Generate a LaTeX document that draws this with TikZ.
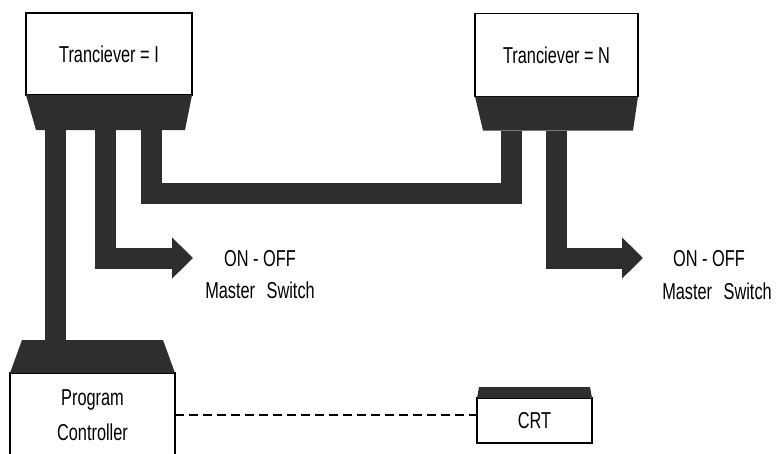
\documentclass[tikz,border=0pt]{standalone}
\usepackage{fontspec}
\setmainfont{Liberation Sans}[FakeStretch=0.71]
\usetikzlibrary{positioning,arrows.meta}
\definecolor{capgray}{HTML}{2E2E2E}
\begin{document}
\begin{tikzpicture}[x=1pt, y=-1pt,
    every node/.style={font=\fontsize{23}{27}\selectfont},
    unit/.style={rectangle, draw, line width=1.1pt, fill=white, outer sep=0pt, inner sep=0pt},
    pipe/.style={draw=capgray, line width=21pt, line join=miter},
    switch/.style={-{Triangle[length=21pt, width=40pt]}},
    dashlink/.style={dash pattern=on 9pt off 5pt, line width=1.5pt}]
    \useasboundingbox (0,0) rectangle (776,453);
    \clip (0,0) rectangle (776,453);

    % Transceivers
    \node[unit, minimum width=166pt, minimum height=82pt] (tranI) at (109,54) {Tranciever = I};
    \node[unit, minimum width=163pt, minimum height=83pt] (tranN) at (556.5,55) {Tranciever = N};
    \fill[capgray] (tranI.south west) -- (tranI.south east) -- ++(-7,35) -- ++(-149,0) -- cycle;
    \fill[capgray] (tranN.south west) -- (tranN.south east) -- ++(-5,34) -- ++(-150,0) -- cycle;

    % Controller and CRT
    \node[unit, minimum width=165pt, minimum height=84pt, align=center] (prog) at (92.5,415) {Program\\[8pt]Controller};
    \node[unit, minimum width=115pt, minimum height=45pt] (crt) at (534.5,420.5) {CRT};
    \fill[capgray] (prog.north west) -- (prog.north east) -- ++(-12,-33) -- ++(-141,0) -- cycle;
    \fill[capgray] (crt.north west) -- (crt.north east) -- ++(-2,-11) -- ++(-111,0) -- cycle;

    % Switch labels
    \node (onoffI) at (260,259) {ON - OFF};
    \node (masterI) at (260,290) {Master\enspace Switch};
    \node (onoffN) at (709,259) {ON - OFF};
    \node (masterN) at (717,291) {Master\enspace Switch};

    % Ports and tips
    \coordinate (portA) at ([xshift=-53.5pt,yshift=-35pt]tranI.south);
    \coordinate (portB) at ([xshift=-4pt,yshift=-35pt]tranI.south);
    \coordinate (portC) at ([xshift=42pt,yshift=-35pt]tranI.south);
    \coordinate (portD) at ([xshift=-45.5pt,yshift=-34pt]tranN.south);
    \coordinate (portE) at ([yshift=-34pt]tranN.south);
    \coordinate (progport) at ([yshift=33pt]prog.north);
    \coordinate (tipI) at (193,258);
    \coordinate (tipN) at (643,258);

    % Links
    \draw[pipe] (portA) -- (portA |- progport);
    \draw[pipe, switch] (portB) |- (tipI);
    \draw[pipe] (portC) -- ++(0,63) -| (portD);
    \draw[pipe, switch] (portE) |- (tipN);
    \draw[dashlink] (prog.east) -- (prog.east -| crt.west);
  \end{tikzpicture}
\end{document}
